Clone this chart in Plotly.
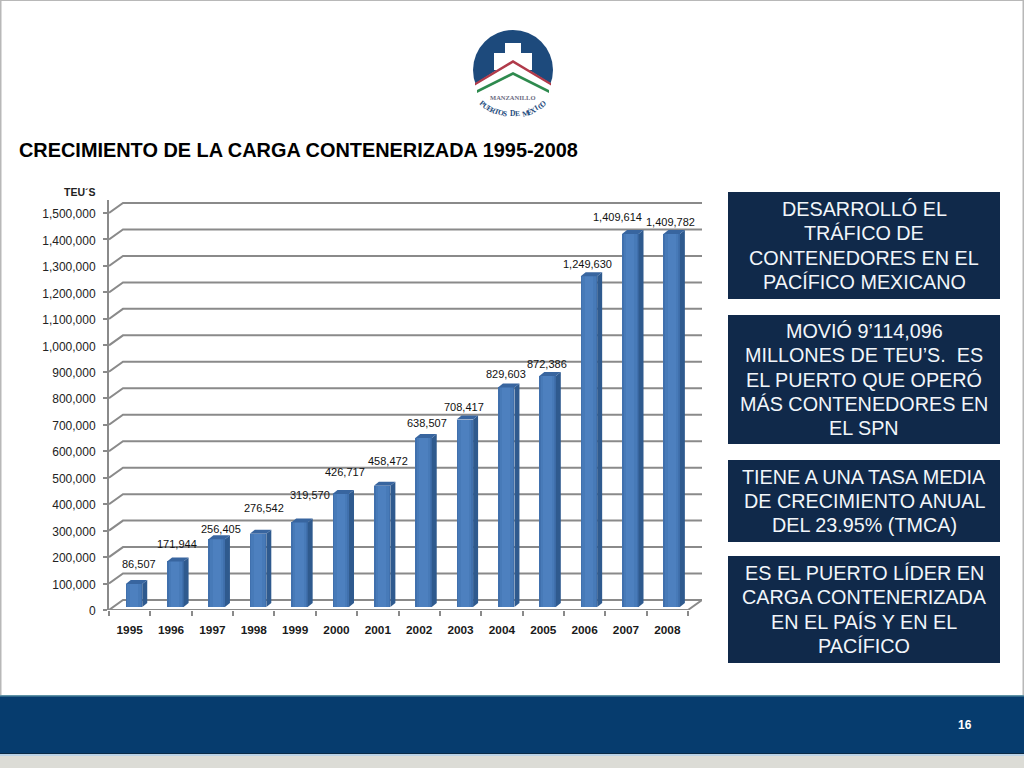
import math
import plotly.graph_objects as go

# ---- data ----
years = ["1995","1996","1997","1998","1999","2000","2001","2002","2003","2004","2005","2006","2007","2008"]
teus = [86507,171944,256405,276542,319570,426717,458472,638507,708417,829603,872386,1249630,1409614,1409782]
labels = ["86,507","171,944","256,405","276,542","319,570","426,717","458,472","638,507","708,417","829,603","872,386","1,249,630","1,409,614","1,409,782"]
y_ticks = list(range(0, 1500001, 100000))
title_text = "CRECIMIENTO DE LA CARGA CONTENERIZADA 1995-2008"
axis_title = "TEU´S"
page_number = "16"
boxes = [
    ["DESARROLLÓ EL","TRÁFICO DE","CONTENEDORES EN EL","PACÍFICO MEXICANO"],
    ["MOVIÓ 9’114,096","MILLONES DE TEU’S.  ES","EL PUERTO QUE OPERÓ","MÁS CONTENEDORES EN","EL SPN"],
    ["TIENE A UNA TASA MEDIA","DE CRECIMIENTO ANUAL","DEL 23.95% (TMCA)"],
    ["ES EL PUERTO LÍDER EN","CARGA CONTENERIZADA","EN EL PAÍS Y EN EL","PACÍFICO"],
]
# label nudges relative to each bar top, in screen pixels
label_dx = [5,2,4.5,6,11,4,6,3.6,-1,0,-0.5,-1,-13,-1]
label_dy = [23,20.5,13,29,30,25,27.6,18,15.5,16.4,15,15,20,15]

# ---- layout geometry ----
W, H = 1024, 768
LEFT, FRONT_RIGHT, BACK_RIGHT = 109, 688, 702
ZERO, TOP = 610, 200
SLOT = (FRONT_RIGHT - LEFT) / len(years)
PX_PER_UNIT = 397 / 1500000
def ux(px): return px / SLOT
def uy(px): return px / PX_PER_UNIT
def fx(px): return px / W
def fy(px): return 1 - px / H

GRID = "#8a8a8a"
SIDE, TOPC = "#2f5a8e", "#38659f"
SHEEN = [(1.0, "#4070ad"), (0.8, "#477ab8"), (0.5, "#4d80bf")]

depth_x, depth_y = ux(14), uy(10)
bar_off = ux(4.3)
bar_w = ux(16.5)
base = uy(3)
bd_x, bd_y = ux(5), uy(4)
xs = list(range(len(years)))
x_left, x_right = -0.5, len(years) - 0.5

fig = go.Figure()

# side and top faces
for i, v in zip(xs, teus):
    l = i + bar_off - bar_w / 2
    r = i + bar_off + bar_w / 2
    fig.add_trace(go.Scatter(x=[r, r + bd_x, r + bd_x, r, r],
                             y=[base, base + bd_y, v + base + bd_y, v + base, base],
                             mode="lines", fill="toself", fillcolor=SIDE,
                             line=dict(width=0), hoverinfo="skip", showlegend=False, cliponaxis=False))
    fig.add_trace(go.Scatter(x=[l, l + bd_x, r + bd_x, r, l],
                             y=[v + base, v + base + bd_y, v + base + bd_y, v + base, v + base],
                             mode="lines", fill="toself", fillcolor=TOPC,
                             line=dict(width=0), hoverinfo="skip", showlegend=False, cliponaxis=False))

# front faces, with lighter cores for the sheen
for frac, col in SHEEN:
    fig.add_trace(go.Bar(x=[i + bar_off for i in xs], y=teus, base=base, width=bar_w * frac,
                         marker=dict(color=col, line=dict(width=0)), showlegend=False))

# floor edge, in front of the back wall
fig.add_trace(go.Scatter(x=[x_left, x_right, x_right + depth_x], y=[0, 0, depth_y], mode="lines",
                         line=dict(color=GRID, width=2), hoverinfo="skip", showlegend=False, cliponaxis=False))

shapes = []
def rect(x0, y0, x1, y1, color, layer="below"):
    shapes.append(dict(type="rect", xref="paper", yref="paper", x0=fx(x0), x1=fx(x1), y0=fy(y0), y1=fy(y1),
                       fillcolor=color, line=dict(width=0), layer=layer))
def poly(pts, color, layer="below"):
    p = "M " + " L ".join(f"{fx(a):.5f} {fy(b):.5f}" for a, b in pts) + " Z"
    shapes.append(dict(type="path", xref="paper", yref="paper", path=p, fillcolor=color,
                       line=dict(width=0), layer=layer))

# page frame and footer
rect(0, 0, 1024, 1, "#b8b8b8")
rect(0, 0, 1.5, 695, "#b8b8b8")
rect(1022.5, 0, 1024, 695, "#b8b8b8")
rect(0, 695, 1024, 754, "#063c6e")
rect(0, 695, 1024, 696.5, "#5f93a6")
rect(0, 753, 1024, 754, "#0b2a45")
rect(0, 754, 1024, 756, "#bcd3e6")
rect(0, 756, 1024, 768, "#dcdcd6")

# logo
cx, cy, rad = 513, 70, 40
shapes.append(dict(type="circle", xref="paper", yref="paper", x0=fx(cx - rad), x1=fx(cx + rad),
                   y0=fy(cy + rad), y1=fy(cy - rad), fillcolor="#1d4a7c", line=dict(width=0), layer="below"))
rect(505, 43, 521, 53, "#ffffff")
rect(494, 53, 532, 70, "#ffffff")
arc = [(cx + rad * math.cos(math.radians(a)) * 1.02, cy + rad * math.sin(math.radians(a)) * 1.02) for a in range(20, 165, 5)]
poly([(513, 60)] + arc, "#ffffff")
poly([(475, 83), (513, 60), (551, 83), (551, 85.5), (513, 63), (475, 85.5)], "#b03a4a")
poly([(477, 90), (513, 72), (549, 90), (549, 93), (513, 75), (477, 93)], "#2e8a4e")

# text boxes
box_rects = [(192, 299), (315, 444), (460, 542), (556, 663)]
annotations = []
LINE_STEP = 24.2
for (t, b), lines in zip(box_rects, boxes):
    rect(728, t, 1000, b, "#10294a")
    mid = (t + b) / 2
    for n, line in enumerate(lines):
        annotations.append(dict(xref="paper", yref="paper", x=fx(864), xanchor="center", yanchor="middle",
                                y=fy(mid + (n - (len(lines) - 1) / 2) * LINE_STEP),
                                text=line, showarrow=False,
                                font=dict(family="Liberation Sans", size=19.8, color="#f2f6fa")))

# back-wall grid: diagonal from the axis, then along the wall
for v in y_ticks:
    shapes.append(dict(type="path", xref="x", yref="y", layer="below",
                       path=f"M {x_left} {v} L {x_left + depth_x} {v + depth_y} L {x_right + depth_x} {v + depth_y}",
                       line=dict(color=GRID, width=2)))

# value labels
for i, v, t, dx, dy in zip(xs, teus, labels, label_dx, label_dy):
    annotations.append(dict(x=i + bar_off, y=v, xref="x", yref="y", text=t, showarrow=False,
                            xshift=dx, yshift=dy, font=dict(family="Liberation Sans", size=11, color="#111111")))

annotations.append(dict(xref="paper", yref="paper", x=fx(16.5), y=fy(150), xanchor="left", yanchor="middle",
                        text=f"<b>{title_text}</b>", showarrow=False,
                        font=dict(family="Liberation Sans", size=19.9, color="#000000")))
annotations.append(dict(xref="paper", yref="paper", x=fx(80), y=fy(192), xanchor="center", yanchor="middle",
                        text=f"<b>{axis_title}</b>", showarrow=False,
                        font=dict(family="Liberation Sans", size=10.5, color="#222222")))
annotations.append(dict(xref="paper", yref="paper", x=fx(965), y=fy(725), xanchor="center", yanchor="middle",
                        text=f"<b>{page_number}</b>", showarrow=False,
                        font=dict(family="Liberation Sans", size=12, color="#ffffff")))

# logo lettering
annotations.append(dict(xref="paper", yref="paper", x=fx(513), y=fy(92), text="<b>MANZANILLO</b>", showarrow=False,
                        font=dict(family="Liberation Serif", size=6.5, color="#6a6a80")))
seal = "PUERTOS DE MÉXICO"
for k, ch in enumerate(seal):
    if ch == " ":
        continue
    th = 41 - 82 * k / (len(seal) - 1)
    annotations.append(dict(xref="paper", yref="paper",
                            x=fx(513 - 46.4 * math.sin(math.radians(th))),
                            y=fy(60.6 + 46.4 * math.cos(math.radians(th))),
                            text=f"<b>{ch}</b>", textangle=th, showarrow=False,
                            font=dict(family="Liberation Serif", size=7.5, color="#1d4a7c")))

fig.update_layout(
    width=W, height=H, margin=dict(l=0, r=0, t=0, b=0, pad=0),
    paper_bgcolor="#ffffff", plot_bgcolor="rgba(0,0,0,0)",
    barmode="overlay", bargap=0, showlegend=False,
    shapes=shapes, annotations=annotations,
    xaxis=dict(domain=[fx(LEFT), fx(BACK_RIGHT)], range=[x_left, x_right + depth_x], automargin=False,
               tickmode="array", tickvals=xs, ticktext=[f"<b>{y}</b>" for y in years],
               ticks="", showgrid=False, showline=False, zeroline=False, ticklabelstandoff=11,
               tickfont=dict(family="Liberation Sans", size=11.8, color="#1a1a1a"),
               minor=dict(tickmode="array", tickvals=[x_left + i for i in range(len(years) + 1)],
                          ticks="outside", ticklen=5, tickcolor=GRID, tickwidth=1.5, showgrid=False)),
    yaxis=dict(domain=[fy(ZERO), fy(TOP)], range=[0, (ZERO - TOP) / PX_PER_UNIT], automargin=False,
               tickmode="array", tickvals=y_ticks, tickformat=",d",
               ticks="outside", ticklen=4, tickcolor=GRID, tickwidth=1.5,
               showgrid=False, zeroline=False, showline=True, linecolor=GRID, linewidth=2,
               ticklabelstandoff=5, ticklabelshift=1,
               tickfont=dict(family="Liberation Sans", size=12, color="#222222")),
)

fig.write_html("out.html", config=dict(displayModeBar=False),
               post_script="document.body.style.margin='0';document.documentElement.style.overflow='hidden';")
